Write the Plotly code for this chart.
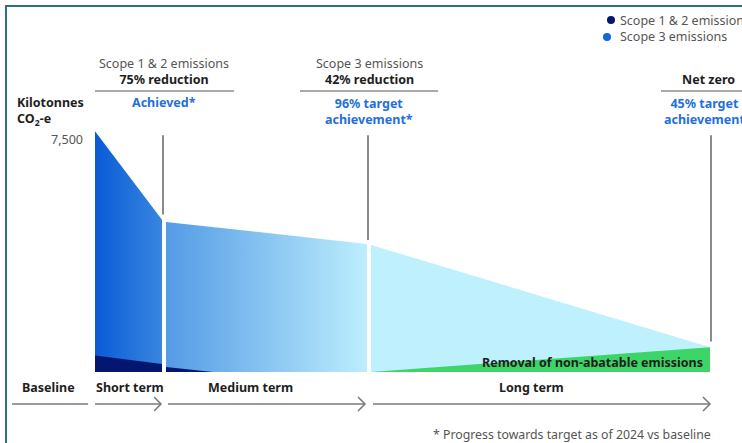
import plotly.graph_objects as go

# ---- data -------------------------------------------------------------
# Timeline positions (x units) of each phase's start and end
phase_names = ["Short term", "Medium term", "Long term"]
phase_x = [[0, 67], [71, 272], [276, 615]]

# Total emissions (kilotonnes CO2-e) at the start/end of each phase
total_start = [7750, 4830, 4090]
total_end = [4900, 4120, 800]

# Scope 1 & 2 emissions (kilotonnes CO2-e)
s12_x = [[0, 67], [71, 118]]
s12_start = [530, 160]
s12_end = [260, 0]

# Removal of non-abatable emissions over the long term
removal_x = [276, 615]
removal_y = [0, 800]

y_tick = 7500
y_tick_label = "7,500"

# ---- figure geometry helpers -----------------------------------------
W, H = 742, 443
X0_PX = 95            # pixel column of the baseline
Y0_PX = 372           # pixel row of zero emissions
KT_PER_PX = 7500 / 233


def xd(px):
    return px - X0_PX


def yp(py):
    return 1 - py / H


def xp(px):
    return px / W


FONT = "Noto Sans"
FS = 12.5
DARK = "#1e1e1e"
GREY = "#555555"
BLUE_TXT = "#1f6fdc"
ARROW = "#7a7a7a"

fig = go.Figure()

gradients = [
    [[0, "#0a5ad5"], [1, "#3886e0"]],
    [[0, "#549be6"], [1, "#bdeefd"]],
    [[0, "#bff0fd"], [1, "#bff0fd"]],
]

for (xa, xb), ys, ye, cs in zip(phase_x, total_start, total_end, gradients):
    fig.add_trace(go.Scatter(
        x=[xa, xa, xb, xb, xa], y=[0, ys, ye, 0, 0],
        mode="lines", fill="toself", line=dict(width=0),
        fillgradient=dict(type="horizontal", colorscale=cs),
        hoverinfo="skip", showlegend=False))

for (xa, xb), ys, ye in zip(s12_x, s12_start, s12_end):
    fig.add_trace(go.Scatter(
        x=[xa, xa, xb, xb, xa], y=[0, ys, ye, 0, 0],
        mode="lines", fill="toself", line=dict(width=0),
        fillcolor="#041770", hoverinfo="skip", showlegend=False))

fig.add_trace(go.Scatter(
    x=[removal_x[0], removal_x[1], removal_x[1], removal_x[0]],
    y=[removal_y[0], removal_y[1], 0, 0],
    mode="lines", fill="toself", line=dict(width=0),
    fillcolor="#3dd468", hoverinfo="skip", showlegend=False))

shapes = []
ann = []

# frame
shapes.append(dict(type="path", xref="paper", yref="paper",
                   path=f"M {xp(6)} {yp(443)} L {xp(6)} {yp(6)} L {xp(742)} {yp(6)}",
                   line=dict(color="#2d6e8c", width=2)))

# milestone markers
marker_top = 7620
for x, bottom in [(68, total_end[0] + 170), (273, total_end[1] + 130), (616, total_end[2] + 180)]:
    shapes.append(dict(type="line", xref="x", yref="y", x0=x, x1=x,
                       y0=bottom, y1=marker_top,
                       line=dict(color="#8a8a8a", width=2)))

# header rules
for a, b in [(95, 234), (300, 438), (661, 770)]:
    shapes.append(dict(type="line", xref="paper", yref="paper",
                       x0=xp(a), x1=xp(b), y0=yp(91), y1=yp(91),
                       line=dict(color=GREY, width=1)))

# timeline arrows
for a, b, head in [(12, 88, False), (95, 161, True), (168, 365, True), (373, 710, True)]:
    shapes.append(dict(type="line", xref="paper", yref="paper",
                       x0=xp(a), x1=xp(b), y0=yp(404), y1=yp(404),
                       line=dict(color=ARROW, width=1.5)))
    if head:
        shapes.append(dict(type="path", xref="paper", yref="paper",
                           path=f"M {xp(b-7)} {yp(397)} L {xp(b)} {yp(404)} L {xp(b-7)} {yp(411)}",
                           line=dict(color=ARROW, width=1.5)))

# legend dots
for cx, cy, col in [(611, 20, "#041770"), (607, 37, "#1565dc")]:
    shapes.append(dict(type="circle", xref="paper", yref="paper",
                       x0=xp(cx - 4), x1=xp(cx + 4), y0=yp(cy + 4), y1=yp(cy - 4),
                       fillcolor=col, line=dict(width=0)))


def text(t, px, py, size=FS, color=DARK, anchor="center", align=None):
    ann.append(dict(text=t, x=xp(px), y=yp(py), xref="paper", yref="paper",
                    xanchor=anchor, yanchor="middle", showarrow=False,
                    align=align or ("left" if anchor == "left" else
                                    "right" if anchor == "right" else "center"),
                    borderpad=0,
                    font=dict(family=FONT, size=size, color=color)))


def grey(t):
    return f"<span style='color:{GREY}'>{t}</span>"


def blue(t):
    return f"<span style='color:{BLUE_TXT}'><b>{t}</b></span>"


# legend labels
text("Scope 1 & 2 emissions<br>Scope 3 emissions", 619, 28.5, color=GREY, anchor="left")

# headers
text(grey("Scope 1 & 2 emissions") + "<br><b>75% reduction</b>", 164, 71)
text(blue("Achieved*"), 164, 103)

text(grey("Scope 3 emissions") + "<br><b>42% reduction</b>", 369, 71)
text(blue("96% target") + "<br>" + blue("achievement*"), 369, 111)

text("<b>Net zero</b>", 708, 79)
text(blue("45% target") + "<br>" + blue("achievement"), 704, 111)

# axis title and tick
text("<b>Kilotonnes</b><br><b>CO<sub>2</sub>-e</b>", 16, 111.5, anchor="left")
ann.append(dict(text=y_tick_label, x=xd(85), y=y_tick, xref="x", yref="y",
                xanchor="right", yanchor="middle", showarrow=False,
                font=dict(family=FONT, size=FS, color=GREY)))

# removal label
text("<b>Removal of non-abatable emissions</b>", 704, 362, anchor="right")

# phase labels
text("<b>Baseline</b>", 48, 387)
text(f"<b>{phase_names[0]}</b>", 95, 387, anchor="left")
text(f"<b>{phase_names[1]}</b>", 250, 387)
text(f"<b>{phase_names[2]}</b>", 531, 387)

# footnote
text("* Progress towards target as of 2024 vs baseline", 712, 434, size=12.3,
     color=GREY, anchor="right")

fig.update_layout(
    width=W, height=H,
    margin=dict(l=0, r=0, t=0, b=0),
    paper_bgcolor="white", plot_bgcolor="white",
    xaxis=dict(range=[-X0_PX, W - X0_PX], visible=False, fixedrange=True),
    yaxis=dict(range=[-(H - Y0_PX) * KT_PER_PX, Y0_PX * KT_PER_PX],
               visible=False, fixedrange=True),
    shapes=shapes, annotations=ann, showlegend=False,
)

fig.write_html("out.html")
